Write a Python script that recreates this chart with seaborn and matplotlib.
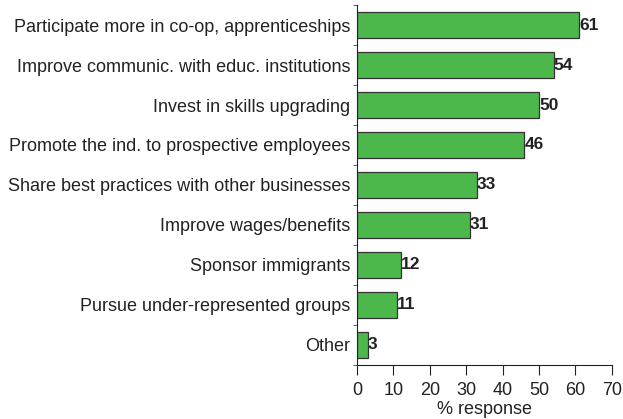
import matplotlib
matplotlib.use("Agg")
import matplotlib.pyplot as plt
import seaborn as sns
import pandas as pd

categories = [
    "Participate more in co-op, apprenticeships",
    "Improve communic. with educ. institutions",
    "Invest in skills upgrading",
    "Promote the ind. to prospective employees",
    "Share best practices with other businesses",
    "Improve wages/benefits",
    "Sponsor immigrants",
    "Pursue under-represented groups",
    "Other",
]
values = [61, 54, 50, 46, 33, 31, 12, 11, 3]
x_ticks = [0, 10, 20, 30, 40, 50, 60, 70]

sns.set_style("white")
plt.rcParams["font.family"] = ["Liberation Sans", "DejaVu Sans"]

FS = 13
df = pd.DataFrame({"category": categories, "value": values})

fig = plt.figure(figsize=(6.23, 4.19), dpi=100)
ax = fig.add_axes([0.573, 0.129, 0.409, 0.859])

sns.barplot(data=df, x="value", y="category", orient="h", color="#4CB84C",
            edgecolor="#333333", linewidth=0.9, width=0.65, saturation=1, ax=ax)

for i, v in enumerate(values):
    ax.text(v, i, str(v), va="center", ha="left", fontsize=12.5,
            fontweight="bold", color="#222222")

ax.set_xlim(0, 70)
ax.set_ylim(8.5, -0.5)
ax.set_xticks(x_ticks)
ax.set_xlabel("% response", fontsize=FS, labelpad=2, color="#222222")
ax.set_ylabel("")
ax.tick_params(axis="x", which="major", bottom=True, direction="out", length=7,
               width=0.8, labelsize=FS, colors="#222222", pad=5)
ax.tick_params(axis="y", which="major", left=False, length=0, labelsize=FS,
               colors="#222222", pad=5)
# small separators between the category rows
ax.set_yticks([i + 0.5 for i in range(-1, 9)], minor=True)
ax.tick_params(axis="y", which="minor", left=True, direction="out", length=3,
               width=0.6, colors="#444444")

for s in ["top", "right"]:
    ax.spines[s].set_visible(False)
for s in ["left", "bottom"]:
    ax.spines[s].set_color("#222222")
    ax.spines[s].set_linewidth(0.8)

fig.savefig("out.png", dpi=100, facecolor="white")
